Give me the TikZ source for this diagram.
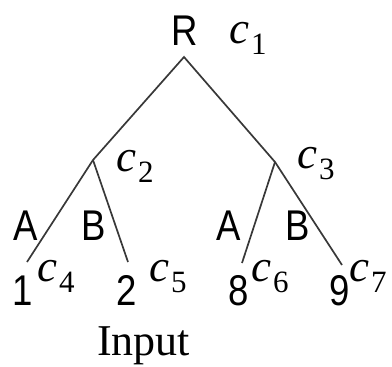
\documentclass[tikz,border=0pt]{standalone}
\usepackage{fontspec}
\setmainfont{Liberation Serif}
\newfontfamily\hv[FakeStretch=0.85]{Liberation Sans}
\newcommand{\cl}[1]{{\fontsize{45}{45}\selectfont\itshape c}\hspace{2pt}\raisebox{-11pt}{\fontsize{31}{31}\selectfont #1}}
\begin{document}
\begin{tikzpicture}[x=1pt,y=-1pt,
  edge/.style={draw=black!78,line width=1.7pt},
  sanslbl/.style={inner sep=0pt,anchor=base,font=\hv\fontsize{43}{43}\selectfont},
  clbl/.style={inner sep=0pt,anchor=base west},
  inputlbl/.style={inner sep=0pt,anchor=base west,font=\fontsize{44}{44}\selectfont}]
\useasboundingbox (0,0) rectangle (392,367);
\coordinate (r) at (184,57);
\coordinate (n2) at (93,160);
\coordinate (n3) at (275,162);
\coordinate (l1) at (27,262);
\coordinate (l2) at (128,262);
\coordinate (l6) at (242,263);
\coordinate (l7) at (342,265);
\draw[edge] (l1) -- (n2) -- (r) -- (n3) -- (l6);
\draw[edge] (n2) -- (l2);
\draw[edge] (n3) -- (l7);
\node[sanslbl] (tR) at (185,45) {R};
\node[clbl] (c1) at (229,43) {\cl{1}};
\node[clbl] (c2) at (116,171) {\cl{2}};
\node[clbl] (c3) at (297,168) {\cl{3}};
\node[sanslbl] (a1) at (26,240) {A};
\node[sanslbl] (b1) at (94,240) {B};
\node[sanslbl] (a2) at (229,240) {A};
\node[sanslbl] (b2) at (298,240) {B};
\node[sanslbl] (d1) at (23,305) {1};
\node[sanslbl] (d2) at (127,305) {2};
\node[sanslbl] (d8) at (239,305) {8};
\node[sanslbl] (d9) at (340,305) {9};
\node[clbl] (c4) at (37,281) {\cl{4}};
\node[clbl] (c5) at (149,281) {\cl{5}};
\node[clbl] (c6) at (251,281) {\cl{6}};
\node[clbl] (c7) at (349,281) {\cl{7}};
\node[inputlbl] (inp) at (97,355) {Input};
\end{tikzpicture}
\end{document}
